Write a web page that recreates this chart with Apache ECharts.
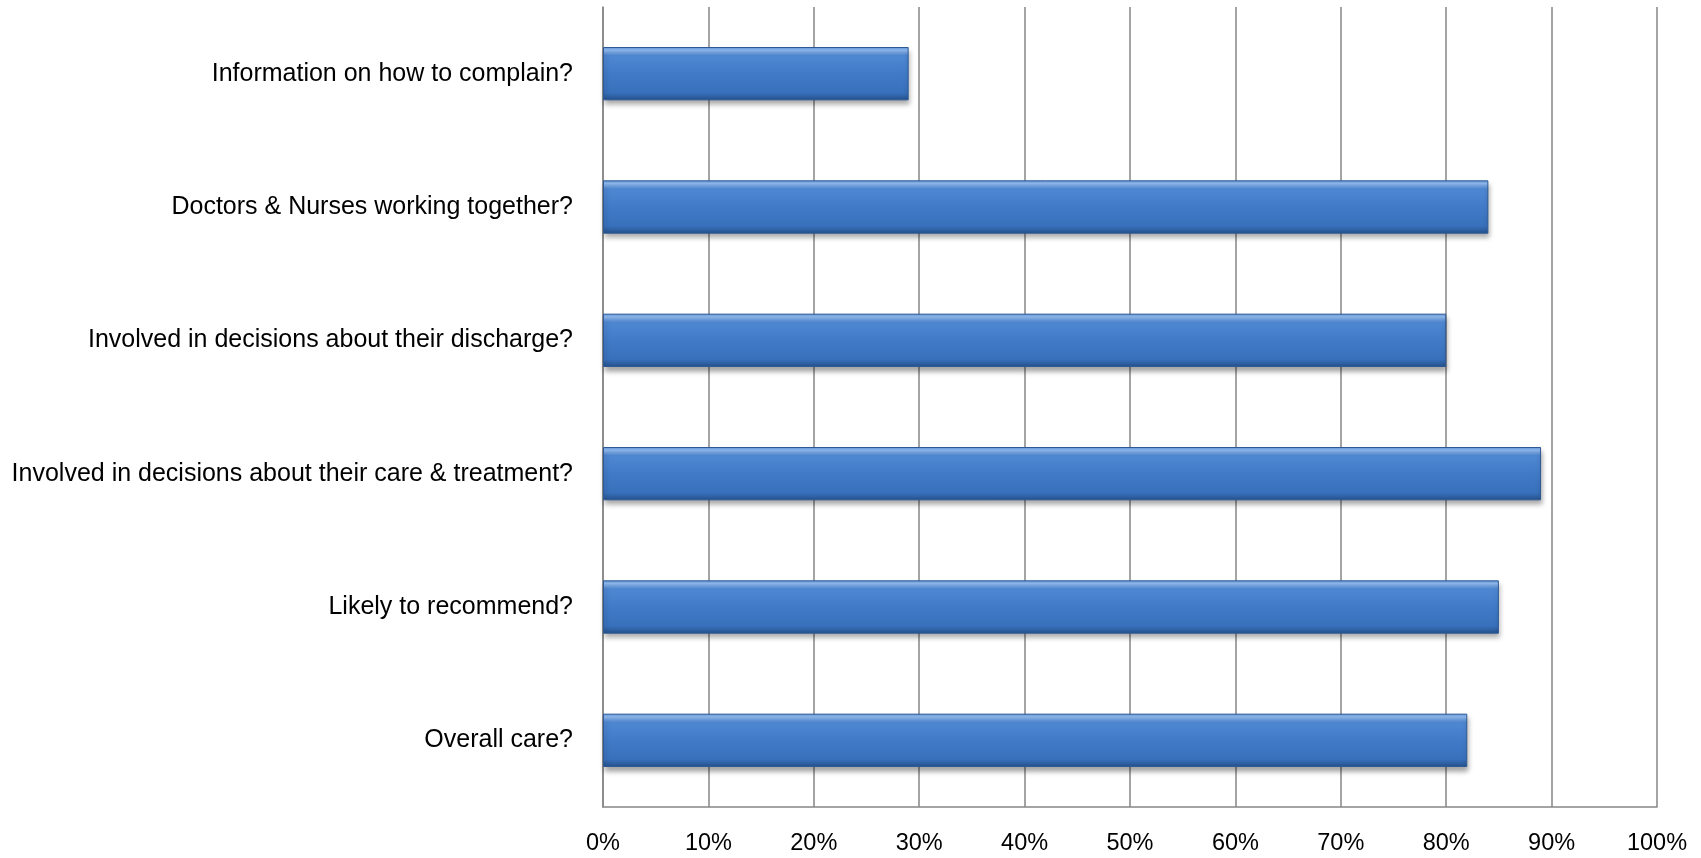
<!DOCTYPE html>
<html>
<head>
<meta charset="utf-8">
<style>
  html, body { margin: 0; padding: 0; background: #ffffff; }
  #chart { width: 1701px; height: 858px; }
</style>
<script src="https://cdn.jsdelivr.net/npm/echarts@6/dist/echarts.min.js"></script>
</head>
<body>
<div id="chart"></div>
<script>
const categories = [
  "Information on how to complain?",
  "Doctors & Nurses working together?",
  "Involved in decisions about their discharge?",
  "Involved in decisions about their care & treatment?",
  "Likely to recommend?",
  "Overall care?"
];
const values = [29, 84, 80, 89, 85, 82];
const tickMin = 0;
const tickMax = 100;
const tickStep = 10;

const chart = echarts.init(document.getElementById('chart'), null, { renderer: 'canvas' });

const barGradient = new echarts.graphic.LinearGradient(0, 0, 0, 1, [
  { offset: 0, color: '#5f93dc' },
  { offset: 0.06, color: '#93bdf2' },
  { offset: 0.16, color: '#4f88d3' },
  { offset: 0.5, color: '#417bc8' },
  { offset: 0.86, color: '#3870bb' },
  { offset: 1, color: '#24508a' }
]);

chart.setOption({
  animation: false,
  backgroundColor: '#ffffff',
  grid: { left: 603, right: 44, top: 7, bottom: 51, containLabel: false },
  xAxis: {
    type: 'value',
    min: tickMin,
    max: tickMax,
    interval: tickStep,
    axisLine: { show: true, lineStyle: { color: '#868686', width: 1.5 } },
    axisTick: { show: false },
    splitLine: { show: true, lineStyle: { color: '#868686', width: 1.5 } },
    axisLabel: {
      margin: 25,
      color: '#000000',
      fontFamily: 'Liberation Sans, Arial, sans-serif',
      fontSize: 23.5,
      formatter: v => v + '%'
    }
  },
  yAxis: {
    type: 'category',
    data: categories,
    inverse: true,
    axisLine: { show: true, lineStyle: { color: '#868686', width: 1.5 } },
    axisTick: { show: false },
    splitLine: { show: false },
    axisLabel: {
      margin: 30,
      color: '#000000',
      fontFamily: 'Liberation Sans, Arial, sans-serif',
      fontSize: 25
    }
  },
  series: [{
    type: 'bar',
    data: values,
    barCategoryGap: '60%',
    itemStyle: {
      color: barGradient,
      borderColor: '#2d5a94',
      borderWidth: 1,
      shadowColor: 'rgba(0,0,0,0.35)',
      shadowBlur: 5,
      shadowOffsetX: 1,
      shadowOffsetY: 4
    }
  }]
});
</script>
</body>
</html>
